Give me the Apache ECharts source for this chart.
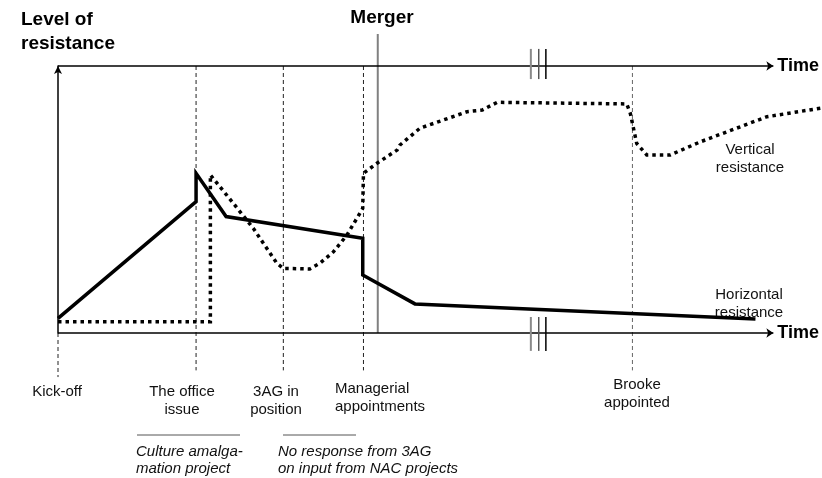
<!DOCTYPE html>
<html>
<head>
<meta charset="utf-8">
<script src="https://cdn.jsdelivr.net/npm/echarts@6/dist/echarts.min.js"></script>
<style>
  html, body { margin: 0; padding: 0; background: #fff; }
  #chart { width: 822px; height: 478px; }
</style>
</head>
<body>
<div id="chart"></div>
<script>
// time runs 0..100 along the arrows (canvas edge is ~106.8), level of resistance 0..100
const eventNames = ['Kick-off', 'The office\nissue', '3AG in\nposition', 'Managerial\nappointments', 'Brooke\nappointed'];
const eventTimes = [0, 19.3, 31.5, 42.7, 80.3];
const mergerTime = 44.7;
const breakTimes = [66.1, 67.2, 68.2];
const timeEnd = 100;

const horizTime = [0, 19.3, 19.3, 23.5, 42.6, 42.6, 49.9, 97.5];
const horizLevel = [5.5, 49.2, 59.8, 43.6, 35.5, 21.7, 10.9, 5.2];

const vertTime = [0, 21.3, 21.3, 21.4, 24.5, 27.3, 30.6, 31.5, 35.2, 36.6, 38.5, 40.4, 42.6, 42.7, 44.6, 47.4,
  47.8, 50.6, 57.2, 59.3, 61.4, 79.5, 80.0, 80.9, 82.3, 85.6, 89.8, 99.1, 106.6];
const vertLevel = [4.2, 4.2, 59.2, 59.6, 48.6, 39.2, 26.1, 24.2, 24.0, 26.1, 30.4, 36.7, 46.7, 59.8, 63.6, 68.5,
  70.4, 76.7, 82.9, 83.5, 86.4, 85.8, 82.3, 71.0, 66.7, 66.7, 71.6, 81.0, 84.2];

const notes = ['Culture amalga-\nmation project', 'No response from 3AG\non input from NAC projects'];

const FONT = '"Liberation Sans", Arial, Helvetica, sans-serif';
const zip = (xs, ys) => xs.map((x, i) => [x, ys[i]]);

const chart = echarts.init(document.getElementById('chart'));

// dashed guides for the events, from the top line down under the axis
const guideSeries = eventTimes.map((t, i) => ({
  type: 'line', silent: true, clip: false, symbol: 'none', z: 1,
  data: [[t, i === 0 ? 0 : 100], [t, i === 0 ? -16.5 : -14]],
  lineStyle: { color: i === 4 ? '#666' : '#222', width: 1, type: [4, 3] }
}));

const breakColors = ['#8a8a8a', '#555', '#000'];
const breakSeries = [];
breakTimes.forEach((t, i) => {
  [[95.1, 106.4], [-6.7, 6.0]].forEach(r => {
    breakSeries.push({
      type: 'line', silent: true, clip: false, symbol: 'none', z: 3,
      data: [[t, r[0]], [t, r[1]]],
      lineStyle: { color: breakColors[i], width: i === 0 ? 2 : 1.5 }
    });
  });
});

const text = (x, y, str, extra) => ({
  type: 'text', silent: true,
  style: Object.assign({ x, y, text: str, font: '15px ' + FONT, fill: '#111',
    align: 'center', verticalAlign: 'top', lineHeight: 18 }, extra || {})
});

const option = {
  animation: false,
  backgroundColor: '#fff',
  grid: { left: 58, right: 0, top: 66, bottom: 145 },
  xAxis: {
    type: 'value', min: 0, max: 106.8, show: false
  },
  yAxis: {
    type: 'value', min: 0, max: 100,
    axisTick: { show: false }, axisLabel: { show: false }, splitLine: { show: false },
    axisLine: { show: true, symbol: ['none', 'arrow'], symbolSize: [6, 8],
      lineStyle: { color: '#000', width: 1.5 } }
  },
  series: [
    {
      // the two "Time" axes
      type: 'lines', coordinateSystem: 'cartesian2d', silent: true, clip: false, z: 3,
      symbol: ['none', 'arrow'], symbolSize: 7,
      lineStyle: { color: '#000', width: 1.5, opacity: 1 },
      label: { show: true, position: 'end', formatter: 'Time', distance: 4,
        fontFamily: FONT, fontSize: 18, fontWeight: 'bold', color: '#000' },
      data: [
        { coords: [[0, 100], [timeEnd, 100]] },
        { coords: [[0, 0], [timeEnd, 0]] }
      ]
    },
    ...guideSeries,
    {
      name: 'Merger', type: 'line', silent: true, clip: false, symbol: 'none', z: 2,
      data: [[mergerTime, 0], [mergerTime, 112]],
      lineStyle: { color: '#808080', width: 2 }
    },
    ...breakSeries,
    {
      name: 'Horizontal resistance', type: 'line', clip: false, symbol: 'none', z: 5,
      data: zip(horizTime, horizLevel),
      lineStyle: { color: '#000', width: 3.5, join: 'miter', cap: 'butt' }
    },
    {
      name: 'Vertical resistance', type: 'line', clip: false, symbol: 'none', z: 4,
      data: zip(vertTime, vertLevel),
      lineStyle: { color: '#000', width: 3.5, type: [3.5, 4], cap: 'butt', join: 'miter' }
    }
  ],
  graphic: [
    text(21, 8, 'Level of\nresistance', { align: 'left', font: 'bold 19px ' + FONT, lineHeight: 24, fill: '#000' }),
    text(382, 9, 'Merger', { font: 'bold 19px ' + FONT, fill: '#000' }),
    text(750, 141, 'Vertical\nresistance'),
    text(749, 286, 'Horizontal\nresistance'),
    text(57, 383, eventNames[0]),
    text(182, 383, eventNames[1]),
    text(276, 383, eventNames[2]),
    text(335, 380, eventNames[3], { align: 'left' }),
    text(637, 376, eventNames[4]),
    { type: 'line', silent: true, shape: { x1: 137, y1: 435, x2: 240, y2: 435 }, style: { stroke: '#555', lineWidth: 1 } },
    { type: 'line', silent: true, shape: { x1: 283, y1: 435, x2: 356, y2: 435 }, style: { stroke: '#555', lineWidth: 1 } },
    text(136, 443, notes[0], { align: 'left', font: 'italic 15px ' + FONT, lineHeight: 17.5 }),
    text(278, 443, notes[1], { align: 'left', font: 'italic 15px ' + FONT, lineHeight: 17.5 })
  ]
};

chart.setOption(option);
</script>
</body>
</html>
